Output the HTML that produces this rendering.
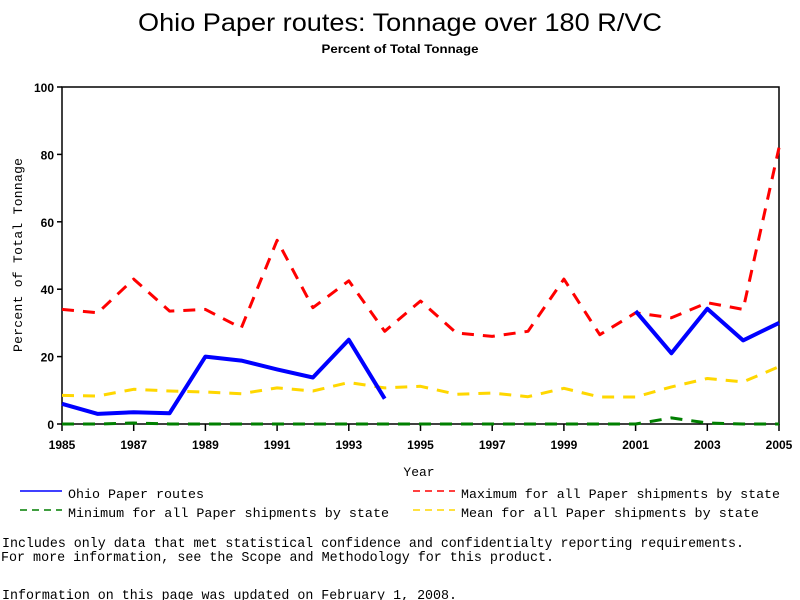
<!DOCTYPE html>
<html><head><meta charset="utf-8"><style>
html,body{margin:0;padding:0;background:#fff;}
svg{display:block;}
</style></head><body>
<svg width="800" height="600" xmlns="http://www.w3.org/2000/svg">
<text x="400" y="31" text-anchor="middle" font-family="Liberation Sans, sans-serif" font-size="25" textLength="524" lengthAdjust="spacingAndGlyphs">Ohio Paper routes: Tonnage over 180 R/VC</text>
<text x="400" y="53" text-anchor="middle" font-family="Liberation Sans, sans-serif" font-size="12" font-weight="bold" textLength="157" lengthAdjust="spacingAndGlyphs">Percent of Total Tonnage</text>
<rect x="62" y="87" width="717" height="337" fill="none" stroke="#000" stroke-width="1.5"/>
<g id="yaxis"></g>
<g id="xaxis"></g>
<text transform="translate(22,255) rotate(-90)" text-anchor="middle" font-family="Liberation Mono, monospace" font-size="13" textLength="194" lengthAdjust="spacing">Percent of Total Tonnage</text>
<text x="419" y="476" text-anchor="middle" font-family="Liberation Mono, monospace" font-size="13">Year</text>
<g id="series"></g>
<g font-family="Liberation Mono, monospace" font-size="13">
<line x1="20" y1="491" x2="62" y2="491" stroke="#00f" stroke-width="1.5"/>
<text x="68" y="498" textLength="136" lengthAdjust="spacingAndGlyphs">Ohio Paper routes</text>
<line x1="20" y1="510" x2="62" y2="510" stroke="#007f00" stroke-width="1.5" stroke-dasharray="7,5"/>
<text x="68" y="517" textLength="321" lengthAdjust="spacingAndGlyphs">Minimum for all Paper shipments by state</text>
<line x1="413" y1="491" x2="455" y2="491" stroke="#f00" stroke-width="1.5" stroke-dasharray="7,5"/>
<text x="461" y="498" textLength="319" lengthAdjust="spacingAndGlyphs">Maximum for all Paper shipments by state</text>
<line x1="413" y1="510" x2="455" y2="510" stroke="#ffd700" stroke-width="1.5" stroke-dasharray="7,5"/>
<text x="461" y="517" textLength="298" lengthAdjust="spacingAndGlyphs">Mean for all Paper shipments by state</text>
</g>
<g font-family="Liberation Mono, monospace" font-size="14">
<text x="2" y="547" textLength="742" lengthAdjust="spacingAndGlyphs">Includes only data that met statistical confidence and confidentialty reporting requirements.</text>
<text x="1" y="561" textLength="553" lengthAdjust="spacingAndGlyphs">For more information, see the Scope and Methodology for this product.</text>
<text x="2" y="599" textLength="455" lengthAdjust="spacingAndGlyphs">Information on this page was updated on February 1, 2008.</text>
</g>
</svg>
<script>
const years = [1985,1986,1987,1988,1989,1990,1991,1992,1993,1994,1995,1996,1997,1998,1999,2000,2001,2002,2003,2004,2005];
const ohioValues = [6,3,3.5,3.2,20,18.8,16.2,13.8,25,7.5,null,null,null,null,null,null,33.5,21,34.2,24.8,30];
const maxValues = [34,33,43,33.5,34,28.5,54.5,34.5,42.5,27.5,36.5,27,26,27.5,43,26.5,33,31.5,36,34,82];
const minValues = [0,0,0.3,0,0,0,0,0,0,0,0,0,0,0,0,0,0,1.8,0.3,0,0];
const meanValues = [8.5,8.3,10.3,9.8,9.5,9,10.7,9.8,12.3,10.7,11.2,8.8,9.2,8.1,10.6,8,8,11,13.5,12.5,17];
const yTicks = [0,20,40,60,80,100];
const xTickLabels = [1985,1987,1989,1991,1993,1995,1997,1999,2001,2003,2005];

const NS = "http://www.w3.org/2000/svg";
const X0 = 62, X1 = 779, Y0 = 424, Y1 = 87;
function xScale(yr){ return X0 + (yr - years[0]) / (years[years.length-1] - years[0]) * (X1 - X0); }
function yScale(v){ return Y0 - v / 100 * (Y0 - Y1); }
function mk(tag, attrs, parent){ const e = document.createElementNS(NS, tag); for (const k in attrs) e.setAttribute(k, attrs[k]); parent.appendChild(e); return e; }

const ya = document.getElementById('yaxis');
yTicks.forEach(t => {
  const y = yScale(t);
  const l = mk('line', {x1: X0-5, x2: X0, y1: y, y2: y, stroke: '#000', 'stroke-width': 1.5}, ya);
  
  
  const tx = mk('text', {x: X0-8, y: y+5, 'text-anchor': 'end', 'font-family': 'Liberation Sans, sans-serif', 'font-size': 12, 'font-weight': 'bold'}, ya);
  tx.textContent = t;
  
  
});
const xa = document.getElementById('xaxis');
years.forEach(yr => {
  const x = xScale(yr);
  const major = xTickLabels.includes(yr);
  if (major) {
    const l = mk('line', {x1: x, x2: x, y1: Y0, y2: Y0+7, stroke: '#000', 'stroke-width': 1.5}, xa);
    
    
    const tx = mk('text', {x: x, y: Y0+25, 'text-anchor': 'middle', 'font-family': 'Liberation Sans, sans-serif', 'font-size': 12, 'font-weight': 'bold'}, xa);
    tx.textContent = yr;
    
    
  }
});

const sg = document.getElementById('series');
function drawSeries(vals, color, width, dash, name){
  let segs = [], cur = [];
  vals.forEach((v,i) => {
    if (v === null) { if (cur.length) segs.push(cur); cur = []; }
    else cur.push(xScale(years[i]).toFixed(1) + ',' + yScale(v).toFixed(1));
  });
  if (cur.length) segs.push(cur);
  segs.forEach(s => {
    const attrs = {points: s.join(' '), fill: 'none', stroke: color, 'stroke-width': width, 'stroke-linejoin': 'round'};
    if (dash) attrs['stroke-dasharray'] = dash;
    const p = mk('polyline', attrs, sg);
    
    
  });
}
drawSeries(minValues, '#007f00', 3, '12,9', 'minimum-line');
drawSeries(meanValues, '#ffd700', 3, '12,9', 'mean-line');
drawSeries(maxValues, '#ff0000', 3, '12,9', 'maximum-line');
drawSeries(ohioValues, '#0000ff', 4, null, 'ohio-line');
</script>
</body></html>
